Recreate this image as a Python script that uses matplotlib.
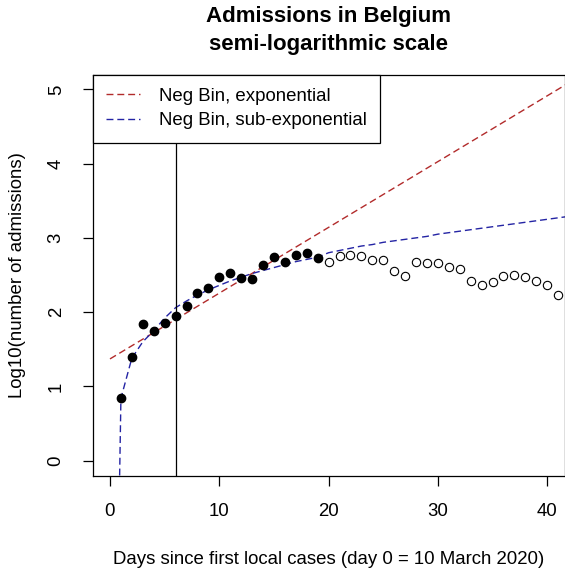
import numpy as np
import matplotlib.pyplot as plt
from matplotlib.lines import Line2D

plt.rcParams['font.family'] = ['Liberation Sans', 'DejaVu Sans']

# daily hospital admissions, day 1 = 11 March 2020
days_fit = list(range(1, 20))
admissions_fit = [7, 25, 69, 56, 71, 89, 121, 182, 214, 300, 333, 285, 277,
                  429, 545, 474, 590, 630, 537]
days_after = list(range(20, 42))
admissions_after = [479, 562, 589, 562, 501, 501, 359, 309, 479, 462, 462,
                    407, 380, 263, 234, 251, 309, 316, 295, 263, 229, 168]

# fitted curves on the log10 scale
exp_days = [0, 42]
exp_log10 = [1.37, 5.09]
sub_days = list(range(0, 43))
sub_log10 = [-8.0, 0.84, 1.38, 1.60, 1.75, 1.92, 2.06, 2.15, 2.23, 2.30, 2.36,
             2.42, 2.47, 2.52, 2.56, 2.60, 2.64, 2.68, 2.71, 2.74, 2.80, 2.83,
             2.86, 2.89, 2.91, 2.94, 2.96, 2.98, 3.00, 3.02, 3.05, 3.07, 3.09,
             3.11, 3.13, 3.15, 3.17, 3.19, 3.21, 3.23, 3.25, 3.27, 3.29]
fit_end_day = 6

red = '#B22B2B'
blue = '#2424A4'
dash = (5, 2.8)
fs = 13.4

fig = plt.figure(figsize=(5.65, 5.72), dpi=100)
ax = fig.add_axes([92.5 / 565, 1 - 475.5 / 572, (564.7 - 92.5) / 565, (475.5 - 74.5) / 572])

ax.plot(exp_days, exp_log10, color=red, lw=1.0, dashes=dash)
ax.plot(sub_days, sub_log10, color=blue, lw=1.0, dashes=dash)
ax.axvline(fit_end_day, color='black', lw=0.9)

ax.plot(days_fit, np.log10(admissions_fit), 'o', color='black', ms=6.0, zorder=4)
ax.plot(days_after, np.log10(admissions_after), 'o', mfc='none', mec='black',
        mew=0.8, ms=6.0, zorder=4)

ax.set_xlim(-1.6, 41.6)
ax.set_ylim(-0.2, 5.2)
ax.set_xticks([0, 10, 20, 30, 40])
ax.set_yticks([0, 1, 2, 3, 4, 5])
ax.tick_params(direction='out', length=7.5, width=0.9, labelsize=fs, pad=12.5)
plt.setp(ax.get_yticklabels(), rotation=90, va='center')
for s in ax.spines.values():
    s.set_linewidth(0.9)

ax.set_xlabel('Days since first local cases (day 0 = 10 March 2020)', fontsize=fs, labelpad=22)
ax.set_ylabel('Log10(number of admissions)', fontsize=fs, labelpad=16)

handles = [Line2D([], [], color=red, lw=1.0, dashes=dash),
           Line2D([], [], color=blue, lw=1.0, dashes=dash)]
leg = ax.legend(handles, ['Neg Bin, exponential', 'Neg Bin, sub-exponential'],
                loc='upper left', bbox_to_anchor=(0, 1), borderaxespad=0,
                fancybox=False, framealpha=1, edgecolor='black', fontsize=fs,
                handlelength=1.85, handletextpad=1.0, borderpad=0.72, labelspacing=0.4)
leg.get_frame().set_linewidth(0.9)
leg.set_zorder(5)

fig.text(328.6 / 565, 1 - 22 / 572, 'Admissions in Belgium', ha='center', va='baseline',
         fontsize=16, fontweight='bold')
fig.text(328.6 / 565, 1 - 50 / 572, 'semi-logarithmic scale', ha='center', va='baseline',
         fontsize=16, fontweight='bold')

fig.savefig('out.png', dpi=100)
